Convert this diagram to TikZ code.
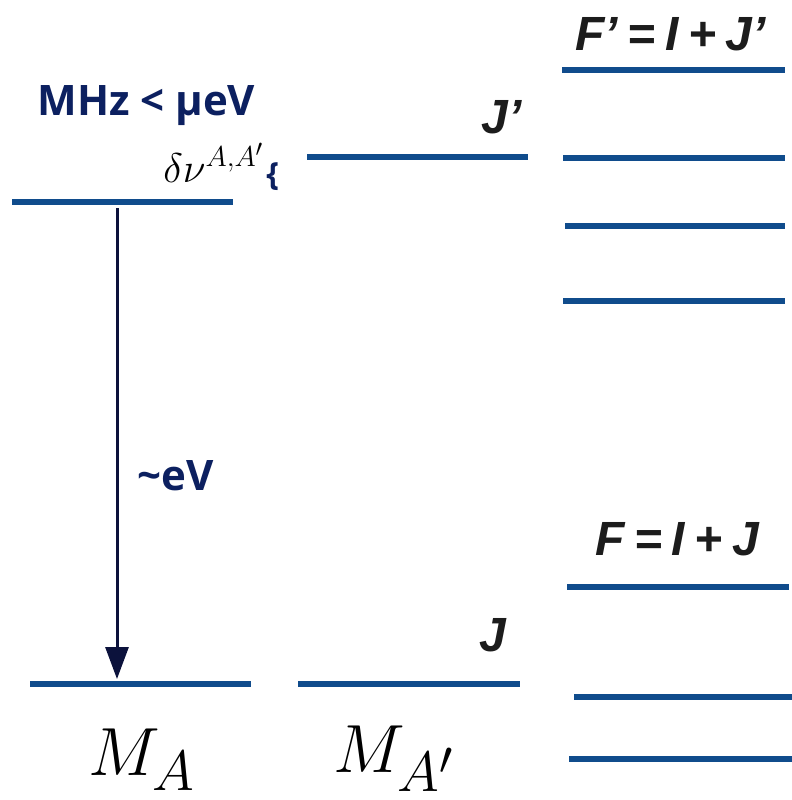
\documentclass[tikz,border=0pt]{standalone}
\usepackage{amsmath}
\usepackage{graphicx}
\usepackage{fontspec}
\usetikzlibrary{arrows.meta}
\newfontfamily\notefont{Open Sans}
\newfontfamily\qnfont{Liberation Sans}
\definecolor{lvlblue}{RGB}{16,76,140}
\definecolor{navy}{RGB}{12,32,96}
\definecolor{arrnavy}{RGB}{12,18,60}
\definecolor{qnblack}{RGB}{28,28,28}
\newcommand{\massfont}[1]{\scalebox{1.37}{\fontsize{24.88}{28}\selectfont$#1$}}

\begin{document}
\begin{tikzpicture}[
    x=0.5pt, y=-0.5pt,
    lvl/.style={line width=3pt, lvlblue},
    trans/.style={-{Triangle[length=16pt, width=11.5pt]}, line width=1.5pt, arrnavy},
    note/.style={font=\notefont\bfseries\fontsize{21}{25}\selectfont, text=navy, inner sep=0pt},
    qn/.style={font=\qnfont\bfseries\itshape\fontsize{24}{28}\selectfont, text=qnblack, inner sep=0pt},
    mass/.style={inner sep=0pt}
  ]
    \useasboundingbox (0,0) rectangle (792,800);

    % levels of A
    \draw[lvl] (12,202) -- (233,202);
    \draw[lvl] (30,684) -- (251,684);
    % levels of A'
    \draw[lvl] (307,157) -- (528,157);
    \draw[lvl] (298,684) -- (520,684);
    % hyperfine levels
    \foreach \x/\y in {562/70, 563/158, 565/226, 563/301}
      \draw[lvl] (\x,\y) -- (785,\y);
    \foreach \x/\xx/\y in {567/789/587, 574/792/697, 569/792/759}
      \draw[lvl] (\x,\y) -- (\xx,\y);

    \coordinate (upper) at (117,208);
    \coordinate (lower) at (117,679);
    \draw[trans] (upper) -- (lower);

    \node[note, anchor=base west] (split) at (37,115) {MHz < µeV};
    \node[note, anchor=base west] (gap) at (137,490) {\textasciitilde eV};
    \node[anchor=base west, inner sep=0pt, font=\fontsize{20.74}{24}\selectfont] (dnu) at (163,182) {$\delta\nu^{A,A'}$};
    \node[note, anchor=base west, font=\notefont\bfseries\fontsize{16}{18}\selectfont] (brace) at (266,185) {\{};

    \node[qn, anchor=base east] (jup) at (522,133) {J’};
    \node[qn, anchor=base east] (jlo) at (507,651) {J};
    \node[qn, anchor=base west] (fup) at (575,50) {F’\hspace{.2em}=\hspace{.2em}I\hspace{.2em}+\hspace{.2em}J’};
    \node[qn, anchor=base west] (flo) at (595,555) {F\hspace{.2em}=\hspace{.2em}I\hspace{.2em}+\hspace{.2em}J};

    \node[mass, anchor=base west] (ma) at (88,775) {\massfont{M_A}};
    \node[mass, anchor=base west] (map) at (333,772) {\massfont{M_{A'}}};
  \end{tikzpicture}
\end{document}
